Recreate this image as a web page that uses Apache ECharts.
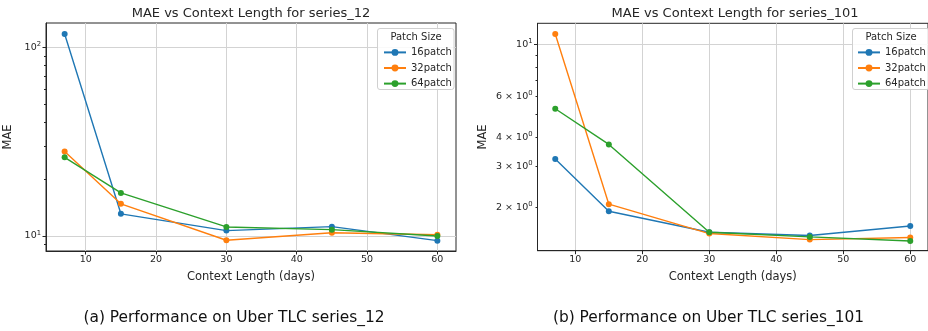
<!DOCTYPE html>
<html><head><meta charset="utf-8">
<script src="https://cdn.jsdelivr.net/npm/echarts@6/dist/echarts.min.js"></script>
<style>html,body{margin:0;padding:0;background:#fff}#c{width:928px;height:331px}</style>
</head><body><div id="c"></div>
<script>
// ---- data ----
const contextLengths = [7, 15, 30, 45, 60];
const seriesNames = ['16patch', '32patch', '64patch'];
const s12_16 = [117.6, 13.1, 10.67, 11.2, 9.44];
const s12_32 = [28.0, 14.8, 9.49, 10.4, 10.15];
const s12_64 = [26.1, 16.9, 11.16, 10.8, 10.0];
const s101_16 = [3.23, 1.93, 1.57, 1.52, 1.67];
const s101_32 = [11.07, 2.07, 1.55, 1.46, 1.49];
const s101_64 = [5.30, 3.73, 1.57, 1.50, 1.44];
const xTicks = [10, 20, 30, 40, 50, 60];
const leftMajorTicks = [10, 100];
const leftMinorTicks = [9, 20, 30, 40, 50, 60, 70, 80, 90];
const rightMajorTicks = [10];
const rightLabelTicks = [2, 3, 4, 6, 10];
const rightMinorTicks = [2, 3, 4, 5, 6, 7, 8, 9];
const titles = ['MAE vs Context Length for series_12', 'MAE vs Context Length for series_101'];
const captions = ['(a) Performance on Uber TLC series_12', '(b) Performance on Uber TLC series_101'];
const legendTitle = 'Patch Size';
// ---- style ----
const colors = ['#1f77b4', '#ff7f0e', '#2ca02c'];
const FF = 'DejaVu Sans';
const INK = '#262626';

function fmtLog(v) {
  const e = Math.floor(Math.log10(v) + 1e-9);
  const m = Math.round(v / Math.pow(10, e));
  if (m === 1) return '{m|10}{e|' + e + '}';
  return '{m|' + m + ' \u00d7 10}{e|' + e + '}';
}
const rich = {
  m: {fontSize: 9.5, fontFamily: FF, color: INK, lineHeight: 13},
  e: {fontSize: 6.8, fontFamily: FF, color: INK, lineHeight: 13, verticalAlign: 'top'}
};

const grids = [
  {left: 46, top: 23, width: 410, height: 228},
  {left: 537.5, top: 23.3, width: 395.8, height: 227.4}
];
const yRanges = [[8.32, 134.6], [1.309, 12.3]];

function xAxisCfg(i) {
  return {
    type: 'value', gridIndex: i, min: 4.35, max: 62.65,
    axisLine: {onZero: false, lineStyle: {color: INK, width: 1}},
    axisTick: {customValues: xTicks, length: 3.5, lineStyle: {color: INK}},
    axisLabel: {customValues: xTicks, fontSize: 9.5, fontFamily: FF, color: INK, margin: 4},
    splitLine: {show: true, lineStyle: {color: '#d3d3d3', width: 1}},
    name: 'Context Length (days)', nameLocation: 'middle', nameGap: 20,
    nameTextStyle: {fontSize: 11.5, fontFamily: FF, color: INK}
  };
}
function yMain(i, majors, labels, nameGap) {
  return {
    type: 'log', logBase: 10, gridIndex: i, position: 'left',
    min: yRanges[i][0], max: yRanges[i][1],
    axisLine: {show: true, lineStyle: {color: INK, width: 1}},
    axisTick: {show: true, customValues: majors, length: 3.5, lineStyle: {color: INK}},
    axisLabel: {customValues: labels, formatter: fmtLog, rich: rich, margin: 5},
    splitLine: {show: true, lineStyle: {color: '#d3d3d3', width: 1}},
    name: 'MAE', nameLocation: 'middle', nameGap: nameGap,
    nameTextStyle: {fontSize: 11.5, fontFamily: FF, color: INK}
  };
}
function yMinor(i, minors) {
  return {
    type: 'log', logBase: 10, gridIndex: i, position: 'left', offset: 0,
    min: yRanges[i][0], max: yRanges[i][1],
    axisLine: {show: false},
    axisTick: {show: true, customValues: minors, length: 2, lineStyle: {color: INK}},
    axisLabel: {show: false},
    splitLine: {show: false}
  };
}

const dataSets = [[s12_16, s12_32, s12_64], [s101_16, s101_32, s101_64]];
const series = [];
dataSets.forEach((sets, gi) => {
  sets.forEach((vals, si) => {
    series.push({
      type: 'line', name: seriesNames[si], xAxisIndex: gi, yAxisIndex: gi * 2,
      data: contextLengths.map((x, k) => [x, vals[k]]),
      symbol: 'circle', symbolSize: 6, showSymbol: true,
      lineStyle: {width: 1.4, color: colors[si]},
      itemStyle: {color: colors[si]},
      emphasis: {disabled: true}, animation: false, z: 3
    });
  });
});

function legendCfg(left) {
  return {
    data: seriesNames, orient: 'vertical', left: left, top: 47.4,
    itemWidth: 22, itemHeight: 8.6, itemGap: 5.6, padding: 0,
    textStyle: {fontSize: 10, fontFamily: FF, color: INK},
    selectedMode: false, z: 10
  };
}
function legendBox(x, w, cx) {
  return [
    {type: 'rect', z: 8, shape: {x: x, y: 28.5, width: w, height: 61, r: 2.5},
     style: {fill: 'rgba(255,255,255,0.85)', stroke: '#d0d0d0', lineWidth: 1}},
    {type: 'text', z: 9, x: cx, y: 37, style: {text: legendTitle, fontSize: 10, fontFamily: FF, fill: INK, align: 'center', verticalAlign: 'middle'}}
  ];
}

const option = {
  backgroundColor: '#ffffff',
  animation: false,
  grid: grids.map(g => Object.assign({show: true, borderColor: INK, borderWidth: 1, backgroundColor: 'transparent', containLabel: false}, g)),
  xAxis: [xAxisCfg(0), xAxisCfg(1)],
  yAxis: [
    yMain(0, leftMajorTicks, leftMajorTicks, 32), yMinor(0, leftMinorTicks),
    yMain(1, rightMajorTicks, rightLabelTicks, 48), yMinor(1, rightMinorTicks)
  ],
  legend: [legendCfg(383), legendCfg(857)],
  series: series,
  graphic: [].concat(
    legendBox(377.5, 76.5, 416),
    legendBox(852.5, 77, 891),
    [
      {type: 'text', x: 251, y: 14, style: {text: titles[0], fontSize: 13, fontFamily: FF, fill: INK, align: 'center', verticalAlign: 'middle'}},
      {type: 'text', x: 735, y: 14, style: {text: titles[1], fontSize: 13, fontFamily: FF, fill: INK, align: 'center', verticalAlign: 'middle'}},
      {type: 'text', x: 234, y: 318, style: {text: captions[0], fontSize: 15.4, fontFamily: FF, fill: '#111', align: 'center', verticalAlign: 'middle'}},
      {type: 'text', x: 708.5, y: 318, style: {text: captions[1], fontSize: 15.4, fontFamily: FF, fill: '#111', align: 'center', verticalAlign: 'middle'}}
    ]
  )
};
const chart = echarts.init(document.getElementById('c'), null, {renderer: 'canvas'});
chart.setOption(option);
</script>
</body></html>
